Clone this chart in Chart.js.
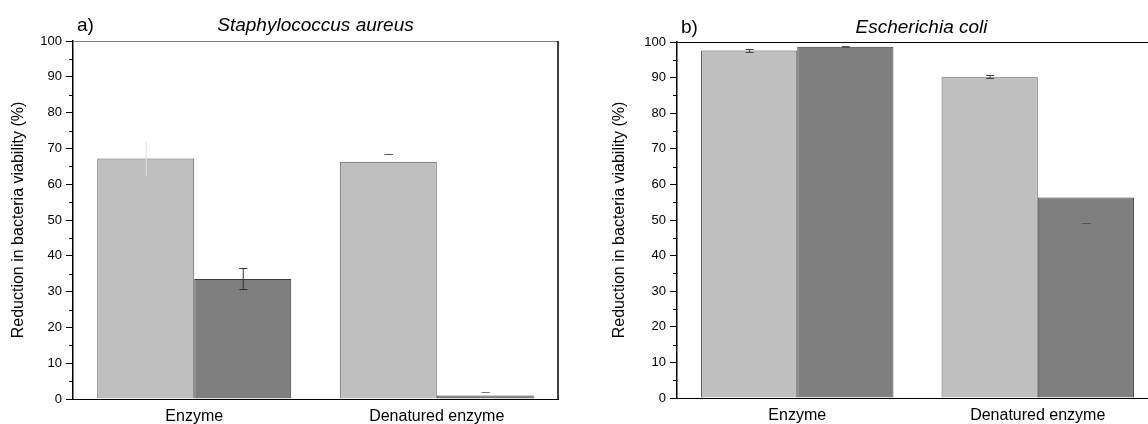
<!DOCTYPE html>
<html lang="en">
<head>
    <meta charset="UTF-8">
    <title>Reduction in bacteria viability</title>
    <script src="https://cdn.jsdelivr.net/npm/chart.js@4.4.0/dist/chart.umd.min.js"></script>
    <style>
        html, body { margin: 0; padding: 0; background: #fff; overflow: hidden; }
        body { width: 1148px; height: 424px; position: relative; }
        .panel { position: absolute; top: 0; }
        #leftPanel { left: 0; }
        #rightPanel { left: 604px; }
    </style>
</head>
<body>

    <div class="panel" id="leftPanel"><canvas id="saChart" width="575" height="424"></canvas></div>
    <div class="panel" id="rightPanel"><canvas id="ecChart" width="560" height="424"></canvas></div>

    <script>
        const categories = ['Enzyme', 'Denatured enzyme'];
        const yTicks = [0, 10, 20, 30, 40, 50, 60, 70, 80, 90, 100];
        const yMinorTicks = [5, 15, 25, 35, 45, 55, 65, 75, 85, 95];

        // a) Staphylococcus aureus
        const saLight = [67.2, 66.3];
        const saDark = [33.5, 1.0];
        const saLightLow = [62.4, 68.3];
        const saLightHigh = [72.0, 68.3];
        const saDarkLow = [30.6, 2.0];
        const saDarkHigh = [36.5, 2.0];

        // b) Escherichia coli
        const ecLight = [97.6, 90.1];
        const ecDark = [98.7, 56.3];
        const ecLightLow = [97.3, 89.8];
        const ecLightHigh = [98.0, 90.6];
        const ecDarkLow = [98.6, 49.1];
        const ecDarkHigh = [98.8, 49.1];

        const FONT = "'Liberation Sans', Arial, sans-serif";

        // error bars, minor ticks, frame and panel titles
        const extras = {
            id: 'extras',
            afterDatasetsDraw(chart, args, opts) {
                const ctx = chart.ctx;
                const y = chart.scales.y;
                opts.errors.forEach((err, di) => {
                    const meta = chart.getDatasetMeta(di);
                    meta.data.forEach((bar, i) => {
                        if (err.low[i] == null) return;
                        const yl = Math.round(y.getPixelForValue(err.low[i])) + 0.5;
                        const yh = Math.round(y.getPixelForValue(err.high[i])) + 0.5;
                        const c = Array.isArray(err.color) ? err.color[i] : err.color;
                        const caps = Array.isArray(err.caps) ? err.caps[i] : err.caps;
                        ctx.save();
                        ctx.strokeStyle = c;
                        ctx.lineWidth = 1;
                        ctx.beginPath();
                        ctx.moveTo(bar.x + 0.5, yl);
                        ctx.lineTo(bar.x + 0.5, yh);
                        if (caps) {
                            ctx.moveTo(bar.x - 3.5, yl);
                            ctx.lineTo(bar.x + 4.5, yl);
                            ctx.moveTo(bar.x - 3.5, yh);
                            ctx.lineTo(bar.x + 4.5, yh);
                        }
                        ctx.stroke();
                        ctx.restore();
                    });
                });
            },
            afterDraw(chart, args, opts) {
                const ctx = chart.ctx;
                const area = chart.chartArea;
                const y = chart.scales.y;
                ctx.save();
                // minor ticks
                ctx.strokeStyle = '#000';
                ctx.lineWidth = 1;
                ctx.beginPath();
                yMinorTicks.forEach(v => {
                    const py = Math.round(y.getPixelForValue(v)) + 0.5;
                    ctx.moveTo(area.left - 4, py);
                    ctx.lineTo(area.left, py);
                });
                ctx.stroke();
                // top and right frame
                ctx.strokeStyle = opts.topColor;
                ctx.beginPath();
                ctx.moveTo(area.left, area.top + 0.5);
                ctx.lineTo(area.right, area.top + 0.5);
                ctx.stroke();
                ctx.strokeStyle = '#000';
                ctx.lineWidth = 1.5;
                ctx.beginPath();
                ctx.moveTo(area.right, area.top);
                ctx.lineTo(area.right, area.bottom);
                ctx.stroke();
                // titles
                ctx.fillStyle = '#000';
                ctx.textBaseline = 'alphabetic';
                ctx.textAlign = 'left';
                ctx.font = '19px ' + FONT;
                ctx.fillText(opts.letter, area.left + 4, opts.baseline);
                ctx.textAlign = 'center';
                ctx.font = 'italic 19px ' + FONT;
                ctx.fillText(opts.title, (area.left + area.right) / 2 + opts.titleShift, opts.baseline);
                ctx.restore();
            }
        };

        function makeChart(id, light, dark, extraOpts, pad, titlePad) {
            const ctx = document.getElementById(id).getContext('2d');
            return new Chart(ctx, {
                type: 'bar',
                data: {
                    labels: categories,
                    datasets: [{
                        label: 'Light',
                        data: light,
                        backgroundColor: '#bfbfbf',
                        borderColor: '#555',
                        borderWidth: 1,
                        barPercentage: 1,
                        categoryPercentage: 0.8
                    }, {
                        label: 'Dark',
                        data: dark,
                        backgroundColor: '#7f7f7f',
                        borderColor: '#3c3c3c',
                        borderWidth: 1,
                        barPercentage: 1,
                        categoryPercentage: 0.8
                    }]
                },
                options: {
                    responsive: false,
                    animation: false,
                    devicePixelRatio: 1,
                    layout: { padding: pad },
                    plugins: {
                        legend: { display: false },
                        tooltip: { enabled: false },
                        extras: extraOpts
                    },
                    scales: {
                        x: {
                            grid: { display: false },
                            border: { display: true, color: '#000', width: 1 },
                            ticks: { color: '#000', padding: 0, font: { family: FONT, size: 16 } },
                            afterFit: (s) => { s.height = pad.xHeight; }
                        },
                        y: {
                            min: 0,
                            max: 100,
                            afterBuildTicks: (s) => { s.ticks = yTicks.map(v => ({ value: v })); },
                            grid: { drawOnChartArea: false, drawTicks: true, tickLength: 7, tickColor: '#000' },
                            border: { display: true, color: '#000', width: 1.5 },
                            ticks: { color: '#000', padding: 4, font: { family: FONT, size: 13 } },
                            title: {
                                display: true,
                                text: 'Reduction in bacteria viability (%)',
                                color: '#000',
                                font: { family: FONT, size: 16 },
                                padding: { top: titlePad, bottom: 0 }
                            },
                            afterFit: (s) => { s.width = 73; }
                        }
                    }
                },
                plugins: [extras]
            });
        }

        makeChart('saChart', saLight, saDark, {
            letter: 'a)',
            title: 'Staphylococcus aureus',
            titleShift: 0,
            baseline: 31,
            topColor: '#808080',
            errors: [
                { low: saLightLow, high: saLightHigh, color: ['#e2e2e2', '#555'], caps: [false, true] },
                { low: saDarkLow, high: saDarkHigh, color: ['#333', '#777'], caps: true }
            ]
        }, { top: 41, left: 0, right: 17, bottom: 0, xHeight: 25 }, 9);

        makeChart('ecChart', ecLight, ecDark, {
            letter: 'b)',
            title: 'Escherichia coli',
            titleShift: 4,
            baseline: 33,
            topColor: '#000',
            errors: [
                { low: ecLightLow, high: ecLightHigh, color: '#444', caps: true },
                { low: ecDarkLow, high: ecDarkHigh, color: '#555', caps: true }
            ]
        }, { top: 42, left: 0, right: 6, bottom: 0, xHeight: 26 }, 6);
    </script>

</body>
</html>
